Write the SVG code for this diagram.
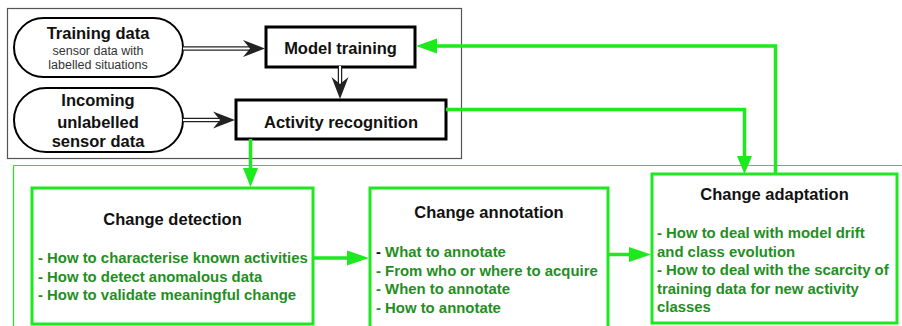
<svg xmlns="http://www.w3.org/2000/svg" width="902" height="326" viewBox="0 0 902 326">
<defs>
<style>
.t{font-family:"Liberation Sans",Arial,Helvetica,sans-serif;font-weight:bold;font-size:16.5px;fill:#111;text-anchor:middle}
.s{font-family:"Liberation Sans",Arial,Helvetica,sans-serif;font-size:12.5px;fill:#333;text-anchor:middle}
.l{font-family:"Liberation Sans",Arial,Helvetica,sans-serif;font-weight:bold;font-size:14.9px;fill:#1f8f1f}
.box{fill:#fff;stroke:#000;stroke-width:3}
.pill{fill:#fff;stroke:#000;stroke-width:2}
.gbox{fill:#fff;stroke:#1ee81e;stroke-width:3}
.g{fill:none;stroke:#1ee81e;stroke-width:3.5}
.ga{fill:#1ee81e;stroke:none}
.dbl1{fill:none;stroke:#222;stroke-width:4.5}
.dbl2{fill:none;stroke:#fff;stroke-width:2}
.ah{fill:#222;stroke:none}
</style>
</defs>
<rect x="7.5" y="8.5" width="454" height="150" fill="#fff" stroke="#555" stroke-width="1.2"/>
<path d="M13.5 165.5 H905 M13.5 165.5 V330" fill="none" stroke="#1ee81e" stroke-width="1.2"/>

<g id="training-data">
<rect class="pill" x="14" y="18" width="169" height="59" rx="29.5"/>
<text class="t" x="98" y="38.5">Training data</text>
<text class="s" x="98" y="54.5">sensor data with</text>
<text class="s" x="98" y="69">labelled situations</text>
</g>
<g id="incoming-data">
<rect class="pill" x="14" y="88" width="169" height="64" rx="32"/>
<text class="t" x="98" y="105.5">Incoming</text>
<text class="t" x="98" y="127.5">unlabelled</text>
<text class="t" x="98" y="146.5">sensor data</text>
</g>
<g id="model-training">
<rect class="box" x="266" y="27" width="149" height="40"/>
<text class="t" x="340.5" y="54">Model training</text>
</g>
<g id="activity-recognition">
<rect class="box" x="236" y="100" width="210" height="39"/>
<text class="t" x="341" y="128">Activity recognition</text>
</g>
<g id="change-detection">
<rect class="gbox" x="32" y="188" width="281" height="136"/>
<text class="t" x="172.5" y="225">Change detection</text>
<text class="l" x="38" y="263">- How to characterise known activities</text>
<text class="l" x="38" y="281.5">- How to detect anomalous data</text>
<text class="l" x="38" y="300">- How to validate meaningful change</text>
</g>
<g id="change-annotation">
<rect class="gbox" x="370" y="188" width="238" height="145"/>
<text class="t" x="489" y="218">Change annotation</text>
<text class="l" x="376" y="257"><tspan fill="#111">-</tspan> What to annotate</text>
<text class="l" x="376" y="275.5">- From who or where to acquire</text>
<text class="l" x="376" y="294">- When to annotate</text>
<text class="l" x="376" y="312.5">- How to annotate</text>
</g>
<g id="change-adaptation">
<rect class="gbox" x="652" y="174" width="245" height="149"/>
<text class="t" x="774.5" y="199.5">Change adaptation</text>
<text class="l" x="657" y="238">- How to deal with model drift</text>
<text class="l" x="657" y="256.5">and class evolution</text>
<text class="l" x="657" y="275">- How to deal with the scarcity of</text>
<text class="l" x="657" y="293.5">training data for new activity</text>
<text class="l" x="657" y="312">classes</text>
</g>

<g id="connectors">
<path class="dbl1" d="M183 48.5 H252"/>
<path class="dbl2" d="M183 48.5 H254"/>
<path class="ah" d="M265 48.5 L243 40 L250 48.5 L243 57 Z"/>
<path class="dbl1" d="M183 120 H222"/>
<path class="dbl2" d="M183 120 H224"/>
<path class="ah" d="M235 120 L213 111.5 L220 120 L213 128.5 Z"/>
<path class="dbl1" d="M340 67 V86"/>
<path class="dbl2" d="M340 66 V88"/>
<path class="ah" d="M340 99 L331.5 77 L340 84 L348.5 77 Z"/>

<path class="g" d="M446 109.5 H744.5 V160"/>
<path class="ga" d="M744.5 174 L737 156 L752 156 Z"/>
<path class="g" d="M775.5 174 V46 H432"/>
<path class="ga" d="M416 46 L437 38.5 L437 53.5 Z"/>
<path class="g" d="M250.5 139 V172"/>
<path class="ga" d="M250.5 187 L243 168 L258 168 Z"/>
<path class="g" d="M313 258 H352"/>
<path class="ga" d="M369 258 L347 250.5 L347 265.5 Z"/>
<path class="g" d="M608 254.5 H634"/>
<path class="ga" d="M651 254.5 L629 247 L629 262 Z"/>
</g>
</svg>
